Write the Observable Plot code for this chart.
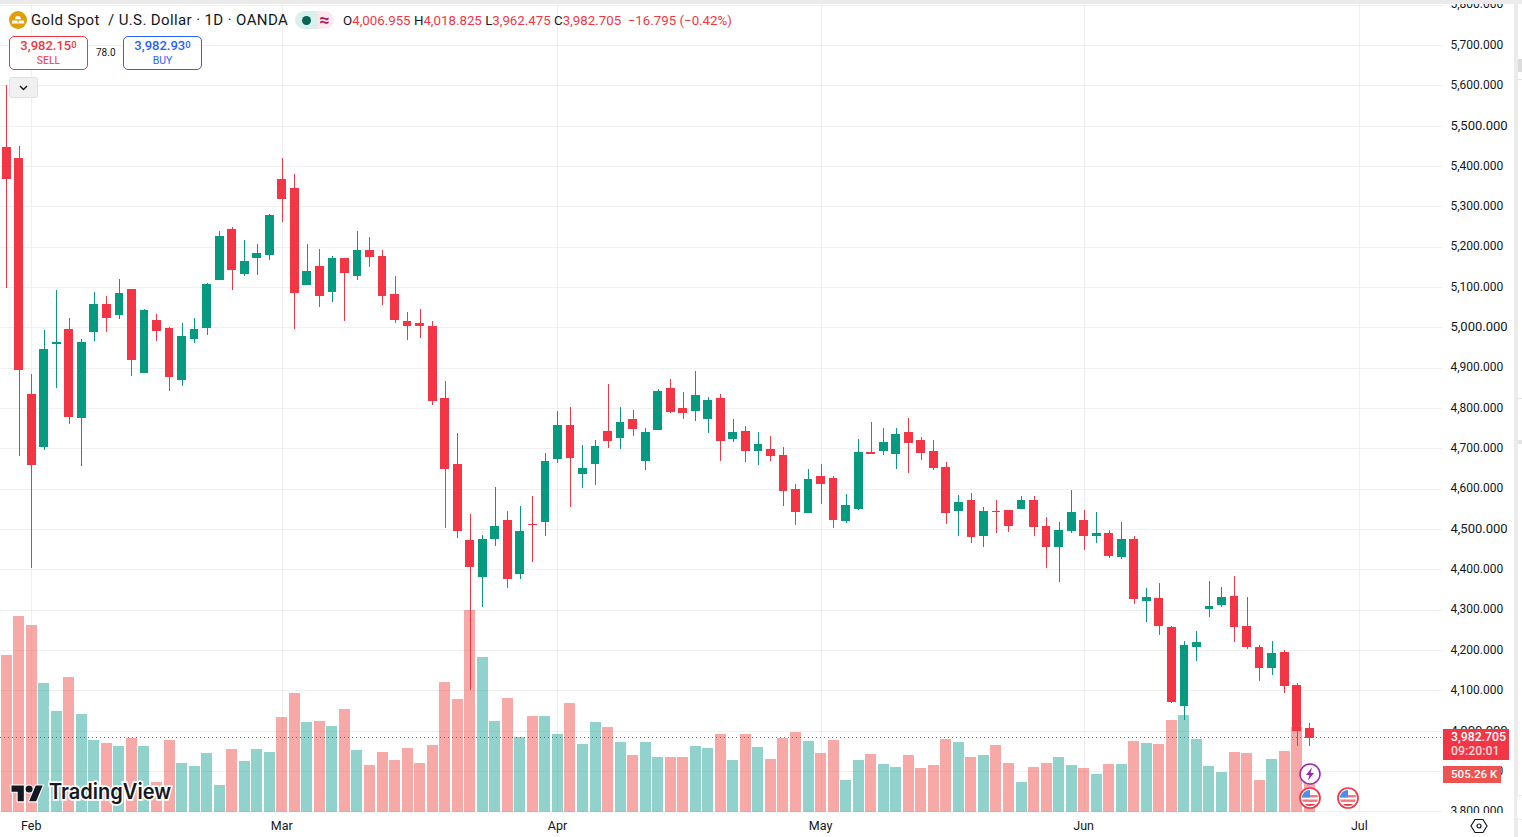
<!DOCTYPE html>
<html>
<head>
<meta charset="utf-8">
<script src="https://cdn.jsdelivr.net/npm/d3@7"></script>
<script src="https://cdn.jsdelivr.net/npm/@observablehq/plot@0.6"></script>
<style>
html,body{margin:0;padding:0;background:#fff;overflow:hidden}
#root{position:relative;width:1522px;height:837px;font-family:Roboto,"Liberation Sans",sans-serif;color:#131722;overflow:hidden}
#root svg{display:block}
.ab{position:absolute;white-space:nowrap}
.box{box-sizing:border-box;background:#fff;border-radius:5px;text-align:center;border:1px solid}
</style>
</head>
<body>
<div id="root"></div>
<script>
const opens = [5447,5420,4835,4703,4959,4996,4775,4988,5058,5031,5095,4887,5018,4998,4869,4971,4998,5117,5244,5132,5172,5179,5368,5345,5105,5152,5088,5172,5127,5192,5177,5083,5016,5011,5003,4825,4661,4473,4381,4475,4522,4389,4512,4517,4674,4758,4636,4661,4743,4726,4773,4669,4745,4850,4800,4793,4773,4825,4723,4743,4693,4698,4684,4599,4540,4631,4626,4520,4550,4691,4693,4686,4740,4721,4693,4654,4545,4572,4483,4545,4547,4550,4572,4507,4455,4495,4522,4483,4490,4431,4475,4322,4329,4257,4061,4208,4302,4312,4334,4260,4208,4155,4195,4113,4006.955];
const highs = [5601,5450,4884,4993,5093,5023,4971,5088,5078,5120,5095,5045,5033,5001,5011,5023,5110,5239,5249,5216,5207,5281,5420,5380,5207,5194,5177,5172,5239,5224,5192,5127,5038,5045,5016,4867,4738,4537,4485,4604,4545,4557,4582,4688,4793,4802,4708,4721,4860,4802,4795,4750,4847,4872,4840,4892,4827,4835,4773,4755,4740,4731,4703,4612,4649,4661,4631,4587,4723,4765,4750,4750,4775,4728,4721,4666,4584,4589,4555,4572,4547,4582,4582,4530,4517,4597,4547,4542,4498,4517,4483,4354,4366,4260,4222,4247,4371,4356,4384,4331,4213,4222,4200,4118,4018.825];
const lows = [5097,4681,4403,4696,4850,4760,4656,4966,4988,5021,4879,4887,4966,4842,4855,4961,4981,5117,5093,5127,5130,5167,5261,4996,5105,5050,5063,5016,5117,5150,5055,5011,4969,4974,4807,4503,4478,4101,4307,4458,4354,4376,4418,4483,4664,4555,4602,4609,4701,4698,4731,4646,4745,4788,4773,4768,4738,4669,4716,4666,4659,4669,4557,4510,4540,4562,4503,4515,4547,4686,4684,4649,4639,4671,4646,4512,4483,4465,4455,4490,4493,4550,4483,4403,4369,4490,4448,4465,4428,4426,4314,4270,4237,4069,4027,4173,4282,4307,4220,4203,4123,4138,4093,3962,3962.475];
const closes = [5368,4894,4659,4946,4964,4778,4964,5058,5023,5085,4919,5043,4991,4877,4979,4996,5107,5226,5142,5164,5184,5278,5318,5085,5140,5078,5172,5135,5192,5174,5078,5018,5003,5003,4817,4649,4495,4406,4475,4507,4376,4495,4510,4669,4758,4676,4651,4706,4718,4765,4748,4740,4842,4790,4788,4832,4820,4718,4740,4693,4711,4681,4594,4542,4624,4612,4522,4560,4691,4686,4716,4736,4713,4688,4651,4540,4567,4480,4545,4542,4507,4572,4505,4455,4498,4542,4483,4490,4433,4475,4327,4331,4260,4071,4213,4220,4309,4331,4257,4208,4155,4193,4111,3999.5,3982.705];
const volumes = [2088,2607,2487,1716,1343,1796,1303,958,918,878,984,878,399,958,652,612,785,359,838,678,838,798,1264,1583,1197,1210,1144,1370,825,625,798,692,851,652,891,1729,1503,2687,2062,1210,1516,998,1277,1277,1037,1450,904,1197,1131,931,758,931,732,732,732,878,851,1037,692,1037,865,705,984,1064,944,785,958,426,692,771,638,599,758,585,625,971,931,732,758,891,652,399,599,652,732,625,585,505,638,638,944,918,904,1224,1290,971,612,532,798,785,426,705,811,1131,505.26];
const monthIndex = [2,22,44,65,86,108];
const monthLabels = ["Feb","Mar","Apr","May","Jun","Jul"];
const priceTicks = [5800,5700,5600,5400,5300,5200,5100,4900,4800,4700,4600,4400,4300,4200,4100,3900,3800];
const majorTicks = [5500,5000,4500,4000];
const lastClose = closes[closes.length-1];

const RED="#f23645", GREEN="#089981";
const bars = closes.map((c,i)=>({i,o:opens[i],h:highs[i],l:lows[i],c,v:volumes[i],up:c>=opens[i]}));
const volBase = 3798.5, volPerK = 0.1864; // volume pane shares the price scale, pinned to the bottom
const fmt = d3.format(",.3f");
const crisp = {shapeRendering:"crispEdges"};

const chart = Plot.plot({
  width:1522, height:837,
  marginLeft:0, marginRight:80, marginTop:4, marginBottom:25,
  style:{background:"transparent",fontFamily:"Roboto,'Liberation Sans',sans-serif",color:"#131722"},
  x:{domain:[-0.49,114.6]},
  y:{domain:[3798.5,5801.5]},
  marks:[
    Plot.gridY([...priceTicks,...majorTicks],{stroke:"#efefef",strokeOpacity:1,strokeWidth:1,...crisp}),
    Plot.gridX(monthIndex,{stroke:"#efefef",strokeOpacity:1,...crisp}),
    Plot.rect(bars,{x1:d=>d.i-0.44,x2:d=>d.i+0.44,y1:volBase,y2:d=>volBase+d.v*volPerK,fill:d=>d.up?"#26a69a":"#ef5350",fillOpacity:0.5,...crisp}),
    Plot.ruleX(bars,{x:"i",y1:"l",y2:"h",stroke:d=>d.up?GREEN:RED,strokeWidth:1,...crisp}),
    Plot.rect(bars,{x1:d=>d.i-0.35,x2:d=>d.i+0.35,y1:"o",y2:"c",fill:d=>d.up?GREEN:RED,...crisp}),
    Plot.ruleY([lastClose],{stroke:RED,strokeDasharray:"1 3",strokeWidth:1,dy:-0.7,...crisp}),
    Plot.axisX(monthIndex,{anchor:"bottom",tickSize:0,tickPadding:9,fontSize:12.5,label:null,dx:-0.5,tickFormat:d=>monthLabels[monthIndex.indexOf(d)]}),
    Plot.axisY(priceTicks,{anchor:"right",tickSize:0,tickPadding:8,fontSize:12,dy:-0.7,textAnchor:"start",label:null,tickFormat:fmt}),
    Plot.axisY(majorTicks,{anchor:"right",tickSize:0,tickPadding:8,fontSize:13,dy:-0.7,textAnchor:"start",label:null,tickFormat:fmt})
  ]
});
const root=document.getElementById("root");
root.appendChild(chart);

function add(html){const t=document.createElement("div");t.innerHTML=html;while(t.firstChild)root.appendChild(t.firstChild);}
add(`
<div class="ab" style="left:0;top:0;width:1522px;height:4px;background:#ebebeb"></div>
<div class="ab" style="left:1514px;top:0;width:4px;height:837px;background:#ebebeb"></div>
<div class="ab" style="left:1518px;top:59px;width:4px;height:13px;background:#dcdcdc"></div>
<div class="ab" style="left:1518px;top:79px;width:4px;height:1px;background:#e4e4e4"></div>
<div class="ab" style="left:1518px;top:398px;width:4px;height:1px;background:#e4e4e4"></div>
<div class="ab" style="left:1518px;top:440px;width:4px;height:4px;background:#e4e4e4"></div>
<div class="ab" style="left:1516px;top:795px;width:6px;height:25px;background:#fff;border-radius:4px 0 0 4px;border:1px solid #ececec;border-right:0;box-sizing:border-box"></div>
<div class="ab" style="left:1444px;top:813px;width:70px;height:8px;background:#fff"></div>

<svg class="ab" style="left:9px;top:11px" width="18" height="18" viewBox="0 0 18 18"><circle cx="9" cy="9" r="9" fill="#dfa006"/><path d="M7 5.2h4l1 3H6zM3.4 9.4h4.8l.8 3.2H2.6zM9.8 9.4h4.8l.8 3.2H9z" fill="#fff"/></svg>
<div class="ab" style="left:31px;top:11px;font-size:15px;line-height:19px;letter-spacing:.38px">Gold Spot&nbsp; / U.S. Dollar · 1D · OANDA</div>
<div class="ab" style="left:295px;top:11px;width:23px;height:18px;background:#d9f0ec;border-radius:9px 0 0 9px"></div>
<div class="ab" style="left:318px;top:11px;width:16px;height:18px;background:#fce8ef;border-radius:0 9px 9px 0"></div>
<div class="ab" style="left:302px;top:16px;width:9px;height:9px;background:#056656;border-radius:50%"></div>
<div class="ab" style="left:318px;top:11px;width:13px;text-align:center;font-size:18px;line-height:18px;font-weight:700;color:#b2185a">≈</div>
<div class="ab" style="left:343px;top:12px;font-size:13.3px;line-height:17px;color:${RED}"><span style="color:#131722">O</span>4,006.955 <span style="color:#131722">H</span>4,018.825 <span style="color:#131722">L</span>3,962.475 <span style="color:#131722">C</span>3,982.705 &nbsp;−16.795 (−0.42%)</div>

<div class="ab box" style="left:9px;top:36px;width:79px;height:34px;border-color:${RED};color:${RED}"><div style="font-size:13px;line-height:15px;margin-top:1px;font-weight:500">3,982.15<span style="font-size:9.5px;position:relative;top:-2px">0</span></div><div style="font-size:10.5px;line-height:13px">SELL</div></div>
<div class="ab" style="left:96px;top:46px;font-size:10px;line-height:13px">78.0</div>
<div class="ab box" style="left:123px;top:36px;width:79px;height:34px;border-color:#2962ff;color:#2962ff"><div style="font-size:13px;line-height:15px;margin-top:1px;font-weight:500">3,982.93<span style="font-size:9.5px;position:relative;top:-2px">0</span></div><div style="font-size:10.5px;line-height:13px">BUY</div></div>
<div class="ab" style="left:9px;top:77px;width:29px;height:21px;box-sizing:border-box;background:#f0f0f0;border:1px solid #e0e0e0;border-radius:3px"><svg width="27" height="19" viewBox="0 0 27 19"><path d="M10 8l3.5 3.5L17 8" fill="none" stroke="#131722" stroke-width="1.4"/></svg></div>

<div class="ab" style="left:1443px;top:729px;width:66px;height:31px;background:${RED};color:#fff;font-size:12.3px;line-height:14px;font-weight:500;padding:1px 0 0 8px;box-sizing:border-box">3,982.705<br><span style="color:#ffd6d8">09:20:01</span></div>
<div class="ab" style="left:1443px;top:766px;width:58px;height:17px;background:#ef5350;color:#fff;font-size:11.6px;line-height:17px;font-weight:500;padding-left:8px;box-sizing:border-box">505.26 K</div>

<svg class="ab" style="left:9px;top:778px" width="170" height="28" viewBox="0 0 170 28">
  <g transform="translate(2.5,4) scale(.88)" fill="#131722" stroke="#fff" stroke-width="2.5" paint-order="stroke"><path d="M14 22H7V11H0V4h14v18zM28 22h-8l7.5-18h8L28 22z"/><circle cx="20" cy="8" r="4"/></g>
  <text x="40" y="21" font-family="Inter,Roboto,sans-serif" font-weight="600" font-size="21" fill="#131722" stroke="#fff" stroke-width="3.5" paint-order="stroke" textLength="122" lengthAdjust="spacingAndGlyphs">TradingView</text>
</svg>

<svg class="ab" style="left:1298px;top:762px" width="24" height="24" viewBox="0 0 24 24"><circle cx="12" cy="12" r="10" fill="#fff" stroke="#9c27b0" stroke-width="1.5"/><path d="M14 5.5L8 13h3.4l-1.4 5.5L16 11h-3.4z" fill="#9c27b0"/></svg>
${[1298,1336].map(x=>`<svg class="ab" style="left:${x}px;top:786px" width="24" height="24" viewBox="0 0 24 24"><circle cx="12" cy="12" r="10" fill="#fff" stroke="${RED}" stroke-width="1.7"/><clipPath id="f${x}"><circle cx="12" cy="12" r="8"/></clipPath><g clip-path="url(#f${x})"><rect x="2" y="9" width="20" height="2.4" fill="#f4767f"/><rect x="2" y="13.5" width="20" height="2.4" fill="#f4767f"/><rect x="2" y="18" width="20" height="3" fill="#f23645"/><rect x="2" y="3" width="10" height="8.5" fill="#4c8fe8"/></g></svg>`).join("")}

<svg class="ab" style="left:1470px;top:817px" width="18" height="18" viewBox="0 0 18 18"><path d="M5 2.5h8l4 6.5-4 6.5H5L1 9z" fill="none" stroke="#131722" stroke-width="1.2"/><circle cx="9" cy="9" r="2" fill="none" stroke="#131722" stroke-width="1.2"/></svg>
`);
</script>
</body>
</html>
